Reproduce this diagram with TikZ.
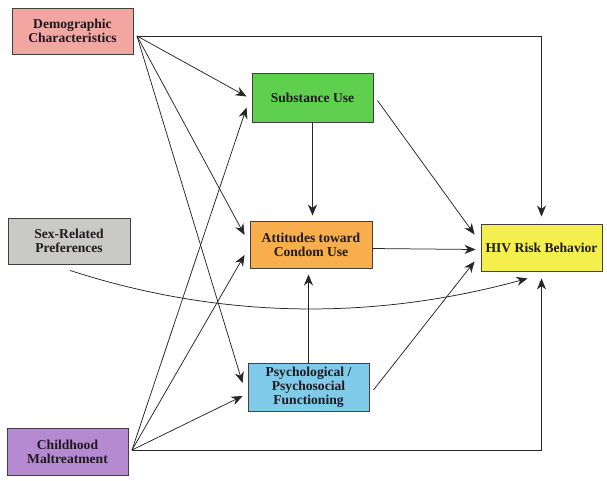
\documentclass[tikz,border=0pt]{standalone}
\usepackage{fontspec}
\setmainfont{Liberation Serif}
\usetikzlibrary{arrows.meta,calc}
\definecolor{demoC}{HTML}{F2A6A2}
\definecolor{subC}{HTML}{5ED04E}
\definecolor{attC}{HTML}{F8AE4C}
\definecolor{hivC}{HTML}{F4EE4E}
\definecolor{sexC}{HTML}{C9C9C7}
\definecolor{psyC}{HTML}{80CBEA}
\definecolor{chC}{HTML}{B68AD0}
\definecolor{txtC}{HTML}{1E1A1E}
\begin{document}
\begin{tikzpicture}[x=1pt,y=-1pt,
  box/.style={draw=black!75,line width=0.9pt,minimum width=121pt,minimum height=47pt,
    inner sep=1pt,align=center,text=txtC,
    font=\fontsize{13.6}{14.2}\selectfont\bfseries},
  arr/.style={draw=black!85,line width=0.75pt,-{Stealth[length=11pt,width=9pt,inset=3.5pt]}}]
\useasboundingbox[fill=white] (0,0) rectangle (607,480);

\node[box,fill=demoC,minimum height=46pt] (demo) at (72.5,31) {Demographic\\Characteristics};
\node[box,fill=subC,minimum height=49pt] (sub) at (312.5,97.5) {Substance Use};
\node[box,fill=attC,minimum width=122pt] (att) at (311,244.5) {Attitudes toward\\Condom Use};
\node[box,fill=hivC] (hiv) at (541.5,247.5) {HIV Risk Behavior};
\node[box,fill=sexC,minimum width=122pt,minimum height=46pt] (sex) at (69,241) {Sex-Related\\Preferences};
\node[box,fill=psyC,minimum height=48pt] (psy) at (308.5,387) {Psychological /\\Psychosocial\\Functioning};
\node[box,fill=chC] (ch) at (67.5,451.5) {Childhood\\Maltreatment};

\coordinate (dO) at (137,36);
\coordinate (cO) at (132,450);
\coordinate (sO) at ([shift={(1,6)}]sex.south);

% from Demographic Characteristics
\draw[arr] (dO) -- ([shift={(-5,-1)}]sub.west);
\draw[arr] (dO) -- ([shift={(-5,-9.5)}]att.west);
\draw[arr] (dO) -- ([shift={(-5,-4)}]psy.west);
\draw[arr] (dO) -| ([shift={(0,-7)}]hiv.north);

% from Childhood Maltreatment
\draw[arr] (cO) -- ([shift={(-5,10)}]sub.west);
\draw[arr] (cO) -- ([shift={(-5,10.5)}]att.west);
\draw[arr] (cO) -- ([shift={(-5,9)}]psy.west);
\draw[arr] (cO) -| ([shift={(0,7)}]hiv.south);

% mediators
\draw[arr] (sub.south) -- ([shift={(0,-5)}]sub.south |- att.north);
\draw[arr] (psy.north) -- ([shift={(0,6)}]psy.north |- att.south);
\draw[arr] ([shift={(0,4)}]att.east) -- ([shift={(-5,2)}]hiv.west);
\draw[arr] ([shift={(4,3)}]sub.east) -- ([shift={(-6,-13)}]hiv.west);
\draw[arr] ([shift={(4,3)}]psy.east) -- ([shift={(-6,14)}]hiv.west);

% Sex-related preferences
\draw[arr] (sO) .. controls (223,320) and (375,320) .. ([shift={(-14,7)}]hiv.south);
\end{tikzpicture}
\end{document}
